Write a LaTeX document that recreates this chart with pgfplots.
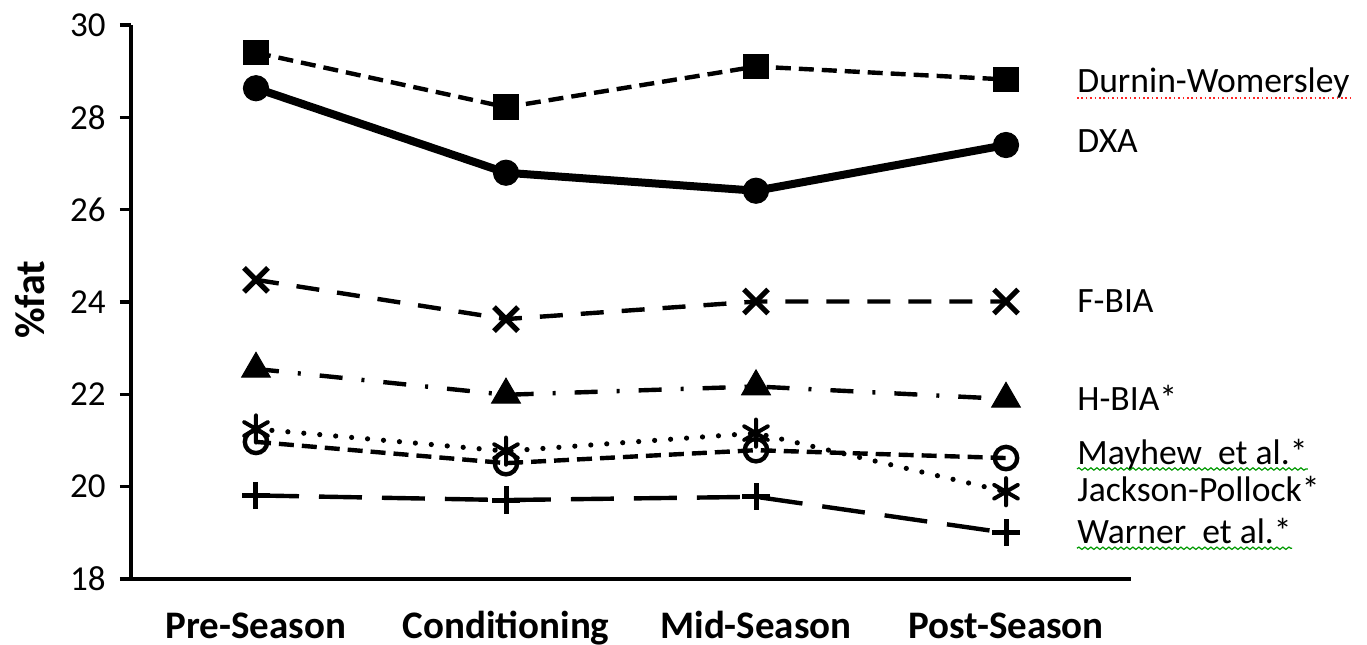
\documentclass[border=0pt]{standalone}
\usepackage{pgfplots}
\pgfplotsset{compat=1.18}
\usepackage{fontspec}
\setmainfont{Carlito}
\usetikzlibrary{decorations.pathmorphing}
\begin{document}
\begin{tikzpicture}
\begin{axis}[
 scale only axis, width=500bp, height=277bp,
 xmin=0.5, xmax=4.5, ymin=18, ymax=30,
 axis lines*=left,
 axis line style={line width=1.6bp},
 clip=false,
 xtick={1,2,3,4},
 xticklabels={Pre-Season,Conditioning,Mid-Season,Post-Season},
 xtick style={draw=none},
 ytick={18,20,...,30},
 ytick style={line width=1.6bp, black},
 tick align=outside,
 major tick length=5.5bp,
 /pgf/number format/assume math mode=true,
 xticklabel style={font=\fontsize{19.5bp}{22bp}\selectfont\bfseries, anchor=base, inner sep=0pt, yshift=-24bp},
 yticklabel style={font=\fontsize{17.5bp}{20bp}\selectfont, anchor=east, inner sep=0pt, xshift=-7bp},
]
% Durnin-Womersley
\addplot[black, line width=2.2bp, dash pattern=on 7.5bp off 4bp, mark=square*, mark size=6.1bp, mark options={solid, line width=0.5bp}]
 coordinates {(1,29.40)(2,28.22)(3,29.10)(4,28.82)};
% DXA
\addplot[black, line width=4bp, mark=*, mark size=6.3bp, mark options={solid, line width=0.5bp}]
 coordinates {(1,28.63)(2,26.80)(3,26.41)(4,27.40)};
% F-BIA
\addplot[black, line width=2.2bp, dash pattern=on 11.5bp off 9bp, mark=x, mark size=8.5bp, mark options={solid, line width=2.6bp}]
 coordinates {(1,24.48)(2,23.63)(3,24.01)(4,24.01)};
% H-BIA
\addplot[black, line width=2.2bp, dash pattern=on 11.5bp off 9.5bp on 1.5bp off 9.5bp, mark=triangle*, mark size=8.3bp, mark options={solid, line width=0.5bp}]
 coordinates {(1,22.55)(2,21.99)(3,22.17)(4,21.90)};
% Jackson-Pollock
\addplot[black, line width=2.6bp, line cap=round, dash pattern=on 0bp off 8bp, mark=asterisk, mark size=6.8bp, mark options={solid, line width=2bp}]
 coordinates {(1,21.25)(2,20.77)(3,21.16)(4,19.89)};
% Mayhew et al.
\addplot[black, line width=2.2bp, dash pattern=on 7.5bp off 4bp, mark=o, mark size=5.6bp, mark options={solid, line width=2.2bp}]
 coordinates {(1,20.97)(2,20.51)(3,20.79)(4,20.62)};
% Warner et al.
\addplot[black, line width=2.2bp, dash pattern=on 21.5bp off 10bp, mark=+, mark size=6.8bp, mark options={solid, line width=2.5bp}]
 coordinates {(1,19.81)(2,19.71)(3,19.78)(4,19.00)};

\tikzset{lab/.style={anchor=base west, inner sep=0pt, font=\fontsize{17.8bp}{20bp}\selectfont}}
\node[lab] (dw) at (axis cs:4.284,28.527) {Durnin-Womersley};
\node[lab] at (axis cs:4.284,27.249) {DXA};
\node[lab] at (axis cs:4.284,23.762) {F-BIA};
\node[lab] at (axis cs:4.284,21.66) {H-BIA*};
\node[lab] (my) at (axis cs:4.284,20.47) {Mayhew\ \ et al.*};
\node[lab] at (axis cs:4.284,19.675) {Jackson-Pollock*};
\node[lab] (wa) at (axis cs:4.284,18.774) {Warner\ \ et al.*};
\draw[red!85!white, line width=0.8bp, dash pattern=on 0.8bp off 1.4bp] ([yshift=-2.6bp]dw.base west) -- ([yshift=-2.6bp]dw.base east);
\draw[green!60!black, line width=0.6bp, decorate, decoration={snake, segment length=3bp, amplitude=0.6bp}] ([yshift=-2bp]my.base west) -- ([yshift=-2bp]my.base east);
\draw[green!60!black, line width=0.6bp, decorate, decoration={snake, segment length=3bp, amplitude=0.6bp}] ([yshift=-2.5bp]wa.base west) -- ([yshift=-2.5bp]wa.base east);

\node[rotate=90, inner sep=0pt, font=\fontsize{21bp}{23bp}\selectfont\bfseries, anchor=center] at ([xshift=-50.5bp]rel axis cs:0,0.504) {\%fat};

\path ([xshift=-65.5bp,yshift=-33bp]rel axis cs:0,0) rectangle ([xshift=118bp,yshift=12.5bp]rel axis cs:1,1);
\end{axis}
\end{tikzpicture}
\end{document}
